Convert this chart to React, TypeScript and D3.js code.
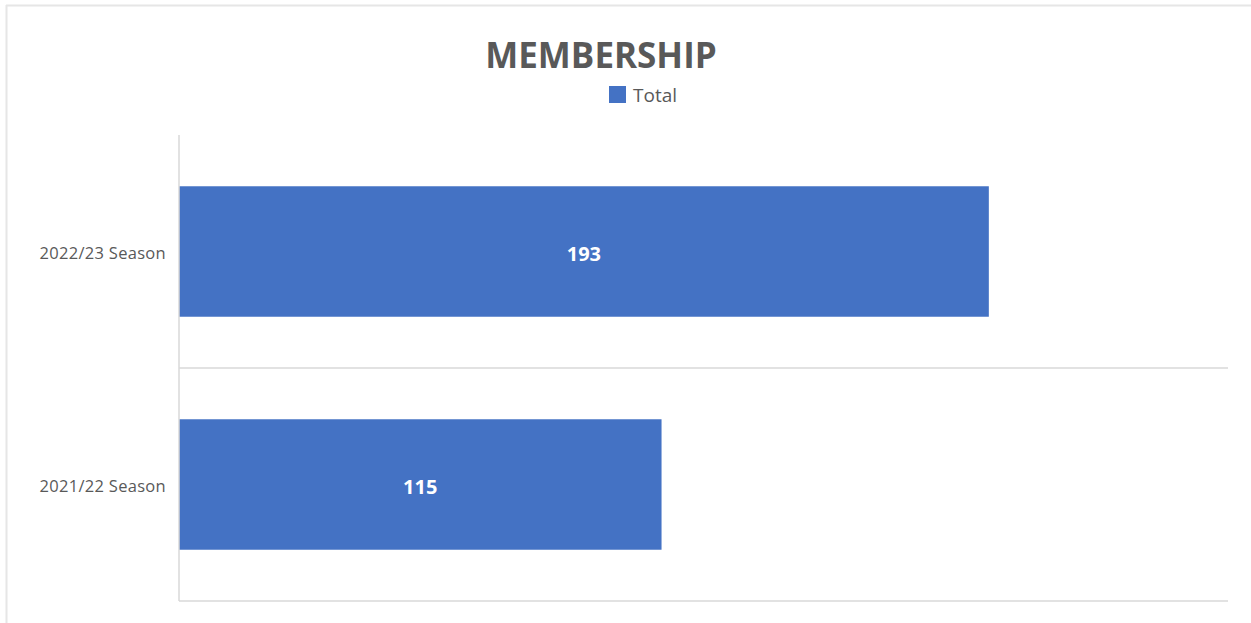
import React from "react";
import * as d3 from "d3";

const categories = ["2022/23 Season", "2021/22 Season"];
const totals = [193, 115];
const xDomainMax = 250;
const seriesName = "Total";
const title = "MEMBERSHIP";

const W = 1251;
const H = 623;
const plot = { left: 179, right: 1228, top: 135, bottom: 601 };
const barColor = "#4472C4";
const textColor = "#595959";
const font = "'Open Sans', sans-serif";

export default function App() {
  const x = d3.scaleLinear().domain([0, xDomainMax]).range([plot.left, plot.right]);
  const y = d3
    .scaleBand<string>()
    .domain(categories)
    .range([plot.top, plot.bottom])
    .paddingInner(0.44)
    .paddingOuter(0.22);
  const step = y.step();
  const gridYs = categories.map((c) => (y(c) as number) - y.paddingOuter() * step + step);

  return (
    <svg
      width={W}
      height={H}
      style={{ position: "absolute", left: 0, top: 0, background: "#fff" }}
      fontFamily={font}
    >
      <rect x={0} y={0} width={W} height={H} fill="#fff" />
      <line x1={6.5} x2={6.5} y1={5} y2={H} stroke="#e6e6e6" strokeWidth={2} />
      <line x1={6} x2={W} y1={5.5} y2={5.5} stroke="#e6e6e6" strokeWidth={2} />

      <text x={601} y={68} textAnchor="middle" fontSize={35} fontWeight="bold" fill={textColor}>
        {title}
      </text>

      <rect x={609} y={86} width={17} height={17} fill={barColor} />
      <text x={633} y={102} fontSize={19} fill={textColor}>
        {seriesName}
      </text>

      {gridYs.map((gy, i) => (
        <line key={i} x1={plot.left} x2={plot.right} y1={gy} y2={gy} stroke="#d9d9d9" strokeWidth={1.5} />
      ))}

      {categories.map((c, i) => (
        <g key={c}>
          <rect
            x={x(0)}
            y={y(c) as number}
            width={x(totals[i]) - x(0)}
            height={y.bandwidth()}
            fill={barColor}
          />
          <text
            x={(x(0) + x(totals[i])) / 2}
            y={(y(c) as number) + y.bandwidth() / 2 + 2}
            dy="0.35em"
            textAnchor="middle"
            fontSize={20}
            fontWeight="bold"
            fill="#fff"
          >
            {totals[i]}
          </text>
          <text
            x={plot.left - 13}
            y={(y(c) as number) + y.bandwidth() / 2 + 2}
            dy="0.35em"
            textAnchor="end"
            fontSize={16.5}
            letterSpacing={0.3}
            fill={textColor}
          >
            {c}
          </text>
        </g>
      ))}

      <line x1={plot.left} x2={plot.left} y1={plot.top} y2={plot.bottom} stroke="#d9d9d9" strokeWidth={1.5} />
    </svg>
  );
}
